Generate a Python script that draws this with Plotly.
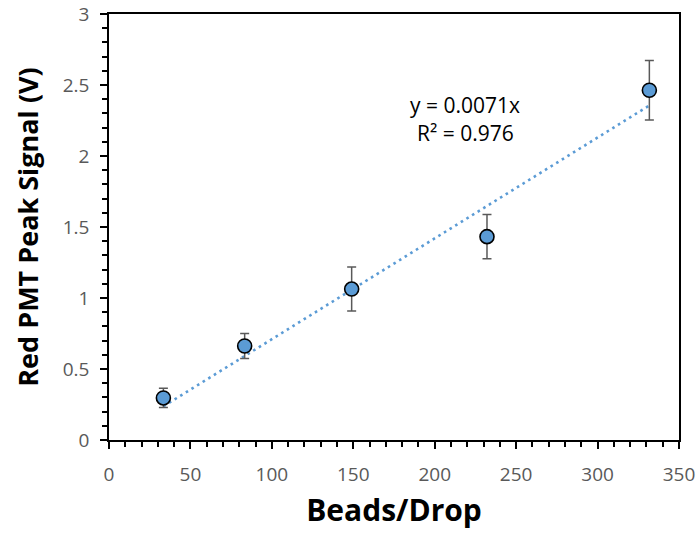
import plotly.graph_objects as go

beads = [33.4, 83.3, 149.0, 232.1, 331.8]
signal = [0.296, 0.662, 1.063, 1.432, 2.463]
err = [0.068, 0.088, 0.155, 0.156, 0.21]
slope = 0.0071
r2 = 0.976

x_ticks = [0, 50, 100, 150, 200, 250, 300, 350]
y_ticks = [0, 0.5, 1, 1.5, 2, 2.5, 3]

blue = "#5B9BD5"
gray = "#595959"
font = "Open Sans"

fit_x = [min(beads), max(beads)]
fit_y = [slope * v for v in fit_x]

fig = go.Figure()
fig.add_trace(go.Scatter(
    x=fit_x, y=fit_y, mode="lines",
    line=dict(color=blue, width=2.6, dash="2.6px,4px"),
    hoverinfo="skip", showlegend=False))
fig.add_trace(go.Scatter(
    x=beads, y=signal, mode="markers",
    marker=dict(size=14, color=blue, line=dict(color="black", width=1.6)),
    error_y=dict(type="data", array=err, visible=True, color=gray, thickness=1.5, width=4.5),
    showlegend=False))

fig.add_annotation(x=218.6, y=2.359, xref="x", yref="y", text="y = 0.0071x",
                   showarrow=False, font=dict(family=font, size=21, color="black"))
fig.add_annotation(x=218.6, y=2.162, xref="x", yref="y", text="R² = %.3f" % r2,
                   showarrow=False, font=dict(family=font, size=21, color="black"))

axis_common = dict(
    showgrid=False, zeroline=False, showline=True, linecolor="black", linewidth=1.5,
    mirror=True, ticks="outside", ticklen=7, tickwidth=1.5, tickcolor="black",
    tickfont=dict(family=font, size=19, color=gray), automargin=False,
)

fig.update_xaxes(range=[0, 350], tickvals=x_ticks, ticktext=[str(v) for v in x_ticks],
                 ticklabelstandoff=9,
                 minor=dict(dtick=10, ticks="outside", ticklen=5, tickwidth=1.5, tickcolor="black"),
                 title=dict(text="<b>Beads/Drop</b>", font=dict(family=font, size=30, color="black"), standoff=14),
                 **axis_common)
fig.update_yaxes(range=[0, 3], tickvals=y_ticks, ticktext=[("%g" % v) for v in y_ticks],
                 ticklabelstandoff=7,
                 minor=dict(dtick=0.1, ticks="outside", ticklen=5, tickwidth=1.5, tickcolor="black"),
                 title=dict(text="<b>Red PMT Peak Signal (V)</b>", font=dict(family=font, size=27, color="black"), standoff=16),
                 **axis_common)

fig.update_layout(width=699, height=537, margin=dict(l=109, r=20, t=14, b=97),
                  plot_bgcolor="white", paper_bgcolor="white")

# remove the default 8px page margin so the figure fills the window exactly
fig.write_html("out.html", config={"displayModeBar": False},
               post_script="document.body.style.margin='0';document.body.style.overflow='hidden';")
